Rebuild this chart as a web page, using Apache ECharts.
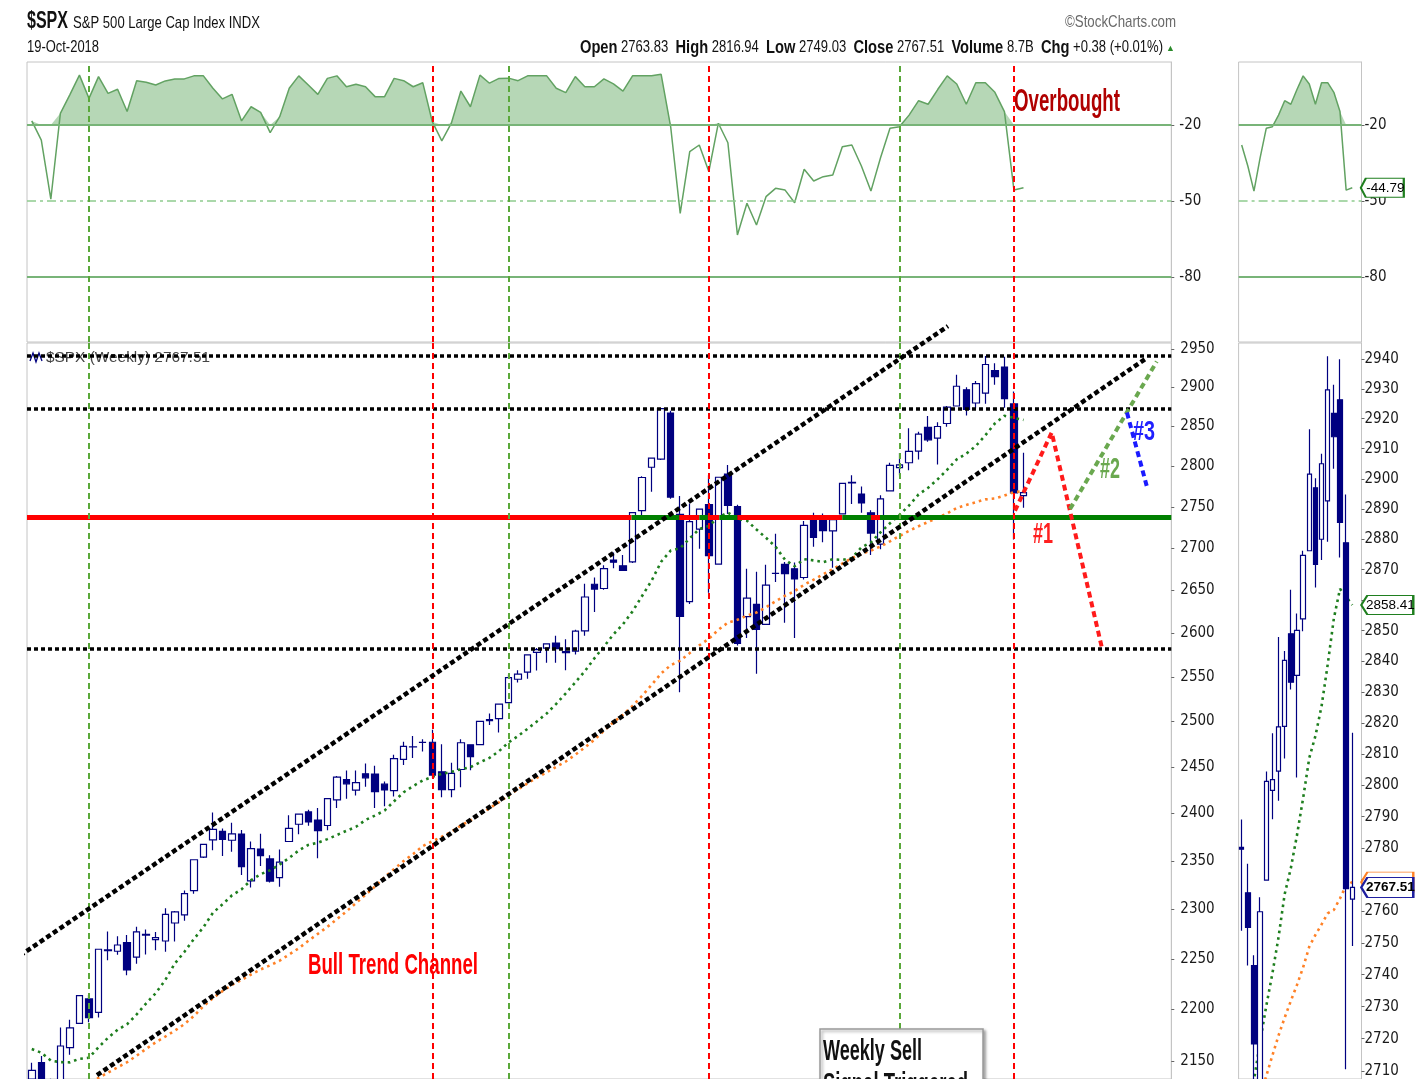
<!DOCTYPE html>
<html><head><meta charset="utf-8">
<script src="https://cdn.jsdelivr.net/npm/echarts@6/dist/echarts.min.js"></script>
<style>html,body{margin:0;padding:0;background:#fff}#c{width:1415px;height:1079px}</style>
</head><body><div id="c"></div>
<script>
const FONT = "'Liberation Sans Narrow','DejaVu Sans Condensed','Arial Narrow',sans-serif";
const TFONT = "'Liberation Sans',Arial,sans-serif";

// ---- weekly S&P 500 bars, week 0 = 21-Oct-2016 ... week 104 = 19-Oct-2018
const OPEN = [
2132.9,2148.5,2129.8,2100.6,2163.0,2186.4,2210.2,2197.0,2258.8,2257.5,
2266.2,2251.6,2273.6,2269.1,2267.8,2286.0,2294.3,2319.2,2354.0,2372.0,
2380.9,2371.6,2378.2,2329.1,2362.3,2352.0,2332.6,2370.3,2388.5,2401.6,
2393.0,2387.2,2414.5,2436.3,2425.0,2442.6,2442.4,2431.4,2424.5,2458.4,
2472.0,2477.1,2477.1,2444.9,2425.5,2447.3,2474.4,2474.5,2501.0,2503.3,
2521.2,2547.4,2555.6,2578.1,2583.0,2588.7,2577.8,2579.5,2602.7,2657.2,
2652.2,2685.9,2679.1,2683.7,2745.6,2799.0,2809.2,2867.2,2741.1,2636.8,
2723.0,2752.9,2681.1,2790.5,2750.6,2619.4,2633.5,2610.2,2670.1,2680.8,
2675.5,2665.2,2738.0,2735.4,2720.9,2741.7,2780.2,2765.8,2742.9,2705.0,
2769.8,2798.4,2804.6,2819.0,2849.0,2835.5,2853.9,2876.2,2897.0,2880.0,
2892.7,2921.8,2926.3,2878.8,2763.83];
const HIGH = [
2148.4,2154.8,2133.3,2182.3,2189.9,2213.4,2214.1,2259.8,2277.5,2272.6,
2273.8,2282.1,2279.3,2277.0,2301.0,2298.3,2319.2,2351.3,2367.3,2401.0,
2383.9,2390.0,2382.4,2370.4,2378.4,2355.9,2362.0,2398.2,2399.3,2403.9,
2405.8,2416.0,2440.2,2446.2,2446.2,2453.8,2451.3,2434.3,2463.5,2477.6,
2484.0,2480.4,2490.9,2474.9,2454.8,2480.4,2474.5,2500.2,2508.9,2519.4,
2552.5,2557.7,2575.4,2583.0,2588.4,2597.0,2593.0,2604.2,2657.7,2665.2,
2679.6,2695.0,2692.1,2743.5,2787.9,2810.3,2872.9,2870.1,2763.4,2754.4,
2747.8,2789.2,2786.6,2801.9,2752.7,2675.5,2672.1,2680.3,2717.5,2683.6,
2682.9,2732.9,2743.0,2742.2,2736.9,2779.9,2789.1,2775.0,2746.1,2764.4,
2804.5,2816.8,2848.0,2843.4,2863.4,2855.6,2876.2,2916.5,2900.2,2908.3,
2940.9,2931.4,2939.9,2894.8,2816.94];
const LOW = [
2114.7,2123.6,2083.8,2097.8,2156.1,2186.4,2187.5,2192.0,2248.4,2254.0,
2233.6,2245.1,2254.3,2258.4,2257.0,2267.2,2288.4,2316.0,2352.9,2361.2,
2355.0,2359.6,2335.4,2322.3,2344.7,2327.5,2323.0,2370.3,2378.0,2387.0,
2352.7,2382.2,2405.8,2415.7,2419.2,2428.6,2405.7,2407.7,2418.2,2452.3,
2459.9,2467.1,2437.8,2417.4,2417.4,2428.2,2446.6,2474.5,2496.3,2488.0,
2520.4,2543.8,2547.9,2557.3,2566.2,2566.3,2557.5,2575.7,2597.0,2624.8,
2650.6,2676.1,2673.6,2682.4,2736.1,2768.6,2808.1,2760.0,2532.7,2634.1,
2699.5,2647.3,2681.1,2741.4,2585.9,2594.6,2553.8,2610.2,2660.0,2612.2,
2594.6,2662.8,2701.9,2707.4,2676.8,2741.7,2753.8,2742.9,2692.0,2699.0,
2769.8,2789.2,2795.1,2808.6,2830.9,2802.5,2849.8,2876.2,2864.1,2873.2,
2879.2,2903.3,2874.0,2710.5,2749.03];
const CLOSE = [
2141.16,2126.41,2085.18,2164.45,2181.90,2213.35,2191.95,2259.53,2258.07,2263.79,
2238.83,2276.98,2274.64,2271.31,2294.69,2297.42,2316.10,2351.16,2367.34,2383.12,
2372.60,2378.25,2343.98,2362.72,2355.54,2328.95,2348.69,2384.20,2399.29,2390.90,
2381.73,2415.82,2439.07,2431.77,2433.15,2438.30,2423.41,2425.18,2459.27,2472.54,
2472.10,2476.83,2441.32,2425.55,2443.05,2476.55,2461.43,2500.23,2502.22,2519.36,
2549.33,2553.17,2575.21,2581.07,2587.84,2582.30,2578.85,2602.42,2642.22,2651.50,
2675.81,2683.34,2673.61,2743.15,2786.24,2810.30,2872.87,2762.13,2619.55,2732.22,
2747.30,2691.25,2786.57,2752.01,2588.26,2640.87,2604.47,2656.30,2670.14,2669.91,
2663.42,2727.72,2712.97,2721.33,2734.62,2779.03,2779.66,2754.88,2718.37,2759.82,
2801.31,2801.83,2818.82,2840.35,2833.28,2850.13,2874.69,2901.52,2871.68,2904.98,
2929.67,2913.98,2885.57,2767.13,2767.51];
// green dotted moving average
const MA_GREEN = [
2161.6,2158.0,2150.5,2149.0,2148.8,2152.2,2153.2,2163.3,2172.4,2180.1,
2185.5,2195.0,2205.9,2215.9,2228.8,2245.2,2256.8,2269.8,2281.7,2296.4,
2305.1,2314.3,2320.5,2330.0,2336.1,2340.2,2346.2,2353.1,2360.9,2366.7,
2369.0,2372.8,2377.1,2381.6,2385.8,2393.1,2397.8,2403.1,2413.1,2422.7,
2429.4,2435.4,2439.3,2442.6,2444.7,2447.6,2449.9,2455.1,2460.0,2467.4,
2476.9,2484.1,2492.0,2500.4,2509.0,2519.8,2531.6,2543.8,2556.6,2571.2,
2584.7,2598.7,2610.5,2625.4,2643.4,2661.4,2683.9,2697.3,2700.2,2712.0,
2723.1,2726.9,2737.3,2743.1,2735.8,2733.3,2722.6,2712.6,2701.8,2686.2,
2678.6,2687.0,2685.5,2683.5,2686.8,2686.2,2688.4,2701.2,2707.1,2719.1,
2730.2,2740.4,2751.8,2765.4,2773.6,2784.1,2795.9,2808.8,2815.9,2825.5,
2839.0,2854.0,2863.7,2861.1,2858.41];
// orange dotted moving average
const MA_ORANGE = [
2104.1,2109.2,2111.6,2115.7,2119.5,2124.6,2128.0,2134.0,2139.1,2144.0,
2149.0,2155.2,2161.8,2168.0,2173.6,2179.3,2185.5,2193.5,2203.0,2211.0,
2217.9,2224.1,2228.9,2234.3,2239.3,2243.4,2248.1,2254.3,2260.5,2268.0,
2275.0,2282.1,2289.9,2297.8,2306.4,2314.9,2323.4,2333.1,2341.5,2349.8,
2357.2,2365.4,2370.5,2375.3,2380.5,2387.2,2392.5,2399.0,2405.6,2412.0,
2419.2,2426.0,2432.4,2438.5,2444.3,2450.3,2456.0,2463.4,2471.4,2479.9,
2489.8,2499.3,2507.6,2517.4,2528.7,2541.0,2554.0,2563.3,2568.6,2577.2,
2586.0,2593.6,2604.0,2612.3,2615.6,2620.5,2624.1,2630.2,2637.2,2643.7,
2649.1,2656.7,2662.7,2669.0,2675.2,2681.7,2688.2,2693.3,2697.2,2702.2,
2708.4,2714.8,2721.0,2726.6,2731.8,2736.8,2742.3,2748.8,2752.5,2755.8,
2759.3,2760.4,2764.0,2768.2,2769.18];
// oscillator (top panel)
const OSC = [
-18.4,-26,-49.3,-15.4,-8,-0.3,-9.5,-0.9,-7.5,-5.9,
-14.7,-2.5,-3.1,-4.2,-2.6,-1.8,-1.8,-0.6,-0.6,-5.5,
-9.7,-7.9,-18.4,-12.8,-15.0,-23.0,-16.7,-5.5,-0.6,-4.2,
-7.9,-1.6,-0.6,-4.9,-3.9,-4.9,-8.8,-8.8,-1.6,-2.5,
-4.9,-3.3,-18.7,-26.3,-19.3,-6.6,-12.8,-0.3,-3.5,-1.6,
-1.5,-2.5,-0.6,-0.6,-0.6,-5.5,-7.2,-0.9,-4.9,-4.9,
-1.8,-3.8,-6.6,-0.6,-0.6,-0.6,0,-20.7,-54.9,-30.5,
-27.9,-38.4,-19.3,-27.0,-63.4,-50.9,-59.5,-48.3,-45.0,-45.7,
-50.7,-37.5,-42.1,-40.4,-39.7,-28.6,-27.9,-36.2,-46.1,-33,
-21.3,-20.7,-16.1,-10.4,-11.8,-6,-0.6,-3.8,-11.8,-3.3,
-3.3,-7.1,-14.7,-45.7,-44.79];

const OSC_TICKS = [-20, -50, -80];
const OSC_OB = -20, OSC_MID = -50, OSC_OS = -80;
const PRICE_TICKS = [2150,2200,2250,2300,2350,2400,2450,2500,2550,2600,2650,2700,2750,2800,2850,2900,2950];
const ZOOM_TICKS = [2710,2720,2730,2740,2750,2760,2770,2780,2790,2800,2810,2820,2830,2840,2850,2860,2870,2880,2890,2900,2910,2920,2930,2940];
const H_LEVELS = [2940.9, 2872.9, 2582.0];
const BAND_LEVEL = 2738;
const BAND_SEGS = [[-0.5,62.9,'dn'],[62.9,67.9,'up'],[67.9,70.0,'dn'],[70.0,70.9,'up'],[70.9,72.1,'dn'],[72.1,74.0,'up'],[74.0,85.0,'dn'],[85.0,88.0,'up'],[88.0,88.95,'dn'],[88.95,119.5,'up']];
const SIGNALS = [['2016-12-02','buy'],['2017-08-11','sell'],['2017-10-06','buy'],['2018-03-02','sell'],['2018-07-20','buy'],['2018-10-12','sell']];
// annotation lines in (week index, price)
const CHANNEL_UPPER = [[-2.63,2244.2],[96.08,2980.1]];
const CHANNEL_LOWER = [[6.84,2136.6],[116.95,2938.3]];
const PROJ_1 = [[103.11,2745.4],[106.96,2842.5],[112.19,2584.9]];
const PROJ_2 = [[108.88,2747.5],[117.97,2933.5]];
const PROJ_3 = [[114.85,2867.8],[116.92,2775.9]];

const N_SLOTS = 120;
const WEEKS = [];
for (let k = 0; k < N_SLOTS; k++) WEEKS.push(new Date(Date.UTC(2016, 9, 21) + k * 7 * 864e5).toISOString().slice(0, 10));
const Z0 = 86;               // first week in the zoom panel
const ZWEEKS = WEEKS.slice(Z0, 106);
const LAST = CLOSE.length - 1;
const lastDate = WEEKS[LAST];

const NAVY = '#000080';
const CANDLES = OPEN.map((o, i) => [o, CLOSE[i], LOW[i], HIGH[i]]);
const candleStyle = {color:'#ffffff', color0:NAVY, borderColor:NAVY, borderColor0:NAVY, borderWidth:1.2};
const SIG_COLOR = {buy:'#5aa83a', sell:'#ff0000'};
const sigLines = SIGNALS.map(s => ({xAxis:s[0], lineStyle:{color:SIG_COLOR[s[1]], width:2, type:[6,4]}}));
const oscLevels = [
  {yAxis:OSC_OB, lineStyle:{color:'#78b478', width:2, type:'solid'}},
  {yAxis:OSC_MID, lineStyle:{color:'#8fcb8f', width:1.6, type:[9,4,3,4]}},
  {yAxis:OSC_OS, lineStyle:{color:'#78b478', width:2, type:'solid'}}];

const W_MAIN = 1144.3;
const grid = [
  {left:27, top:62, width:W_MAIN, height:280, show:true, borderColor:'#c4c4c4', borderWidth:1},
  {left:27, top:343, width:W_MAIN, height:740, show:true, borderColor:'#c4c4c4', borderWidth:1},
  {left:1238.6, top:62, width:122.9, height:280, show:true, borderColor:'#c4c4c4', borderWidth:1},
  {left:1238.6, top:343, width:122.9, height:740, show:true, borderColor:'#c4c4c4', borderWidth:1}];

const hidX = (g, data) => ({type:'category', gridIndex:g, data, boundaryGap:true, show:false});
const xAxis = [hidX(0, WEEKS), hidX(1, WEEKS), {type:'value', gridIndex:1, min:-0.5, max:N_SLOTS-0.5, show:false}, hidX(2, ZWEEKS), hidX(3, ZWEEKS)];

// labels hidden under the value tags of the zoom panel
const ZOOM_LABELS = ZOOM_TICKS.filter(t => Math.abs(t - MA_GREEN[LAST]) > 5 && Math.abs(t - CLOSE[LAST]) > 5);
const lbl = (ticks, margin) => ({customValues:ticks, fontSize:15, color:'#1a1a1a', fontFamily:FONT, margin, formatter:v => String(Math.round(v))});
const tick = (ticks) => ({show:true, inside:false, length:3, customValues:ticks, lineStyle:{color:'#666'}});
const axCommon = {position:'right', splitLine:{show:false}, minorTick:{show:false}, axisLine:{show:true, onZero:false, lineStyle:{color:'#c4c4c4'}}};
const yAxis = [
  Object.assign({type:'value', gridIndex:0, min:-105.67, max:4.87, axisTick:tick(OSC_TICKS), axisLabel:lbl(OSC_TICKS, 8)}, axCommon),
  Object.assign({type:'log', logBase:10, gridIndex:1, min:2132.97, max:2957.8, axisTick:tick(PRICE_TICKS), axisLabel:lbl(PRICE_TICKS, 9)}, axCommon),
  Object.assign({type:'value', gridIndex:2, min:-105.67, max:4.87, axisTick:tick(OSC_TICKS), axisLabel:lbl(OSC_TICKS, 3)}, axCommon),
  Object.assign({type:'log', logBase:10, gridIndex:3, min:2707.5, max:2945.4, axisTick:tick(ZOOM_TICKS), axisLabel:lbl(ZOOM_LABELS, 3)}, axCommon)];

const TAG = 'path://M0,9 L7,0 L60,0 L60,18 L7,18 Z';
const tagLabel = (bold) => ({show:true, position:'inside', offset:[3,0], fontSize:13.5, fontWeight:bold ? 'bold' : 'normal', color:'#000', fontFamily:TFONT, formatter:p => String(p.value)});

function oscSeries(xi, yi, data, withSignals, withTag) {
  const base = data.map(() => OSC_OB);
  const fill = data.map(v => Math.max(v, OSC_OB) - OSC_OB);
  const out = [
    {type:'line', xAxisIndex:xi, yAxisIndex:yi, data:base, stack:'ob'+xi, stackStrategy:'all', symbol:'none', lineStyle:{width:0, opacity:0}, silent:true, z:2},
    {type:'line', xAxisIndex:xi, yAxisIndex:yi, data:fill, stack:'ob'+xi, stackStrategy:'all', symbol:'none', lineStyle:{width:0, opacity:0}, areaStyle:{color:'#b6d7b6', opacity:1}, silent:true, z:2},
    {type:'line', xAxisIndex:xi, yAxisIndex:yi, data, symbol:'none', lineStyle:{color:'#62a262', width:1.5}, z:4,
      markLine:{silent:true, symbol:['none','none'], label:{show:false}, data: withSignals ? oscLevels.concat(sigLines) : oscLevels}}];
  if (withTag) {
    out[2].markPoint = {symbol:TAG, symbolSize:[43,19], symbolOffset:[30,0], silent:true,
      itemStyle:{color:'#fff', borderColor:'#1f7f1f', borderWidth:1.5}, label:tagLabel(false),
      data:[{coord:[lastDate, data[data.length-1]], value:data[data.length-1]}]};
  }
  return out;
}

const dotted = (color) => ({color, width:2.6, type:[2.6,4]});
const series = [].concat(
  oscSeries(0, 0, OSC, true, false),
  oscSeries(3, 2, OSC.slice(Z0), false, true),
  [
    {type:'candlestick', xAxisIndex:1, yAxisIndex:1, data:CANDLES, barWidth:7, itemStyle:candleStyle, z:2},
    {type:'line', xAxisIndex:1, yAxisIndex:1, data:MA_GREEN, symbol:'none', lineStyle:dotted('#1e7e1e'), z:3,
      markLine:{silent:true, symbol:['none','none'], label:{show:false}, lineStyle:{color:'#000', width:3.5, type:[4,3]},
        data:H_LEVELS.map(v => ({yAxis:v}))}},
    {type:'line', xAxisIndex:1, yAxisIndex:1, data:MA_ORANGE, symbol:'none', lineStyle:dotted('#ff8126'), z:3},
    {type:'line', xAxisIndex:2, yAxisIndex:1, data:[], symbol:'none', z:5,
      markLine:{silent:true, symbol:['none','none'], label:{show:false},
        data:BAND_SEGS.map(s => [{coord:[s[0], BAND_LEVEL], lineStyle:{color:s[2]==='up' ? '#008000' : '#ff0000', width:5, type:'solid'}}, {coord:[s[1], BAND_LEVEL]}])}},
    {type:'line', xAxisIndex:2, yAxisIndex:1, data:CHANNEL_UPPER, symbol:'none', clip:false, lineStyle:{color:'#000', width:4.5, type:[5,3]}, z:6},
    {type:'line', xAxisIndex:2, yAxisIndex:1, data:CHANNEL_LOWER, symbol:'none', clip:false, lineStyle:{color:'#000', width:4.5, type:[5,3]}, z:6},
    {type:'line', xAxisIndex:1, yAxisIndex:1, data:[], symbol:'none', z:7,
      markLine:{silent:true, symbol:['none','none'], label:{show:false}, data:sigLines}},
    {type:'line', xAxisIndex:2, yAxisIndex:1, data:PROJ_1, symbol:'none', clip:false, lineStyle:{color:'#ff1a1a', width:4, type:[6,4]}, z:8},
    {type:'line', xAxisIndex:2, yAxisIndex:1, data:PROJ_2, symbol:'none', clip:false, lineStyle:{color:'#6aa84f', width:4, type:[6,4]}, z:8},
    {type:'line', xAxisIndex:2, yAxisIndex:1, data:PROJ_3, symbol:'none', clip:false, lineStyle:{color:'#1a1aff', width:4, type:[6,4]}, z:8},
    // zoom panel
    {type:'line', xAxisIndex:4, yAxisIndex:3, data:MA_ORANGE.slice(Z0), symbol:'none', lineStyle:dotted('#ff8126'), z:3,
      markPoint:{symbol:TAG, symbolSize:[52,20], symbolOffset:[35,0], silent:true,
        itemStyle:{color:'#fff', borderColor:'#ff8126', borderWidth:1.5}, label:{show:false},
        data:[{coord:[lastDate, MA_ORANGE[LAST]], value:MA_ORANGE[LAST].toFixed(2)}]}},
    {type:'line', xAxisIndex:4, yAxisIndex:3, data:MA_GREEN.slice(Z0), symbol:'none', lineStyle:dotted('#1e7e1e'), z:3,
      markPoint:{symbol:TAG, symbolSize:[52,19], symbolOffset:[35,0], silent:true,
        itemStyle:{color:'#fff', borderColor:'#1f7f1f', borderWidth:1.5}, label:tagLabel(false),
        data:[{coord:[lastDate, MA_GREEN[LAST]], value:MA_GREEN[LAST].toFixed(2)}]}},
    {type:'candlestick', xAxisIndex:4, yAxisIndex:3, data:CANDLES.slice(Z0), barWidth:5, itemStyle:candleStyle, z:4,
      markPoint:{symbol:TAG, symbolSize:[52,20], symbolOffset:[35,0], silent:true,
        itemStyle:{color:'#fff', borderColor:'#2020a0', borderWidth:1.6}, label:tagLabel(true),
        data:[{coord:[lastDate, CLOSE[LAST]], value:CLOSE[LAST].toFixed(2)}]}}
  ]);

// ---- text annotations, horizontally fitted to the widths seen in the picture
const mctx = document.createElement('canvas').getContext('2d');
const measure = (text, size, weight) => { mctx.font = (weight || 'normal') + ' ' + size + 'px ' + TFONT; return mctx.measureText(text).width; };
function FT(text, x, y, size, width, opts) {
  opts = opts || {};
  const sx = width / measure(text, size, opts.fontWeight);
  return {type:'text', x, y, scaleX:sx, z:opts.z || 50,
    style:Object.assign({text, x:0, y:0, fontSize:size, fontFamily:TFONT, fill:'#111', verticalAlign:'middle'}, opts, {z:undefined})};
}
const HEADER = [['Open','b'],[' 2763.83  ','n'],['High','b'],[' 2816.94  ','n'],['Low','b'],[' 2749.03  ','n'],['Close','b'],[' 2767.51  ','n'],['Volume','b'],[' 8.7B  ','n'],['Chg','b'],[' +0.38 (+0.01%)','n']];
const HB = 18, HN = 16;
const headerW = HEADER.reduce((s, p) => s + (p[1] === 'b' ? measure(p[0], HB, 'bold') : measure(p[0], HN)), 0);
const headerText = HEADER.map(p => p[1] === 'b' ? '{b|' + p[0] + '}' : p[0]).join('');

const graphic = [
  FT('$SPX', 27, 22, 23, 41, {fontWeight:'bold'}),
  FT('S&P 500 Large Cap Index INDX', 73, 23, 17, 187),
  FT('19-Oct-2018', 27, 48, 16, 72),
  {type:'text', x:1163, y:48, scaleX:583 / headerW, z:50,
    style:{text:headerText, x:0, y:0, align:'right', verticalAlign:'middle', fontSize:HN, fontFamily:TFONT, fill:'#111',
      rich:{b:{fontWeight:'bold', fontSize:HB, fontFamily:TFONT, fill:'#111'}}}},
  {type:'text', x:1166, y:49, z:50, style:{text:'\u25B2', x:0, y:0, fontSize:9, fill:'#2a8a2a', verticalAlign:'middle'}},
  FT('\u00A9StockCharts.com', 1176, 22, 17, 111, {align:'right', fill:'#6a6a6a'}),
  FT('Overbought', 1014, 102, 31, 106, {fontWeight:'bold', fill:'#b00000'}),
  FT('Bull Trend Channel', 308, 966, 30, 170, {fontWeight:'bold', fill:'#ff0000'}),
  FT('#1', 1033, 535, 30, 20, {fontWeight:'bold', fill:'#ff2020'}),
  FT('#2', 1100, 470, 30, 20, {fontWeight:'bold', fill:'#6aa84f'}),
  FT('#3', 1133, 432, 28, 22, {fontWeight:'bold', fill:'#2020ff'}),
  {type:'rect', z:40, shape:{x:820, y:1029, width:163, height:70}, style:{fill:'#fff', stroke:'#9a9a9a', lineWidth:1.5, shadowBlur:3, shadowOffsetX:2, shadowOffsetY:2, shadowColor:'rgba(0,0,0,0.35)'}},
  FT('Weekly Sell', 823, 1052, 29, 99, {fontWeight:'bold'}),
  FT('Signal Triggered', 823, 1085, 29, 145, {fontWeight:'bold'}),
  {type:'polyline', z:1, shape:{points:[[30,361],[33,353],[36,362],[39,353],[42,361]]}, style:{stroke:NAVY, lineWidth:1.3, fill:null}},
  FT('$SPX (Weekly) 2767.51', 46, 358, 15, 164, {fill:'#444', z:1})
];

const chart = echarts.init(document.getElementById('c'), null, {renderer:'canvas'});
chart.setOption({animation:false, backgroundColor:'#fff', grid, xAxis, yAxis, series, graphic});
</script></body></html>
